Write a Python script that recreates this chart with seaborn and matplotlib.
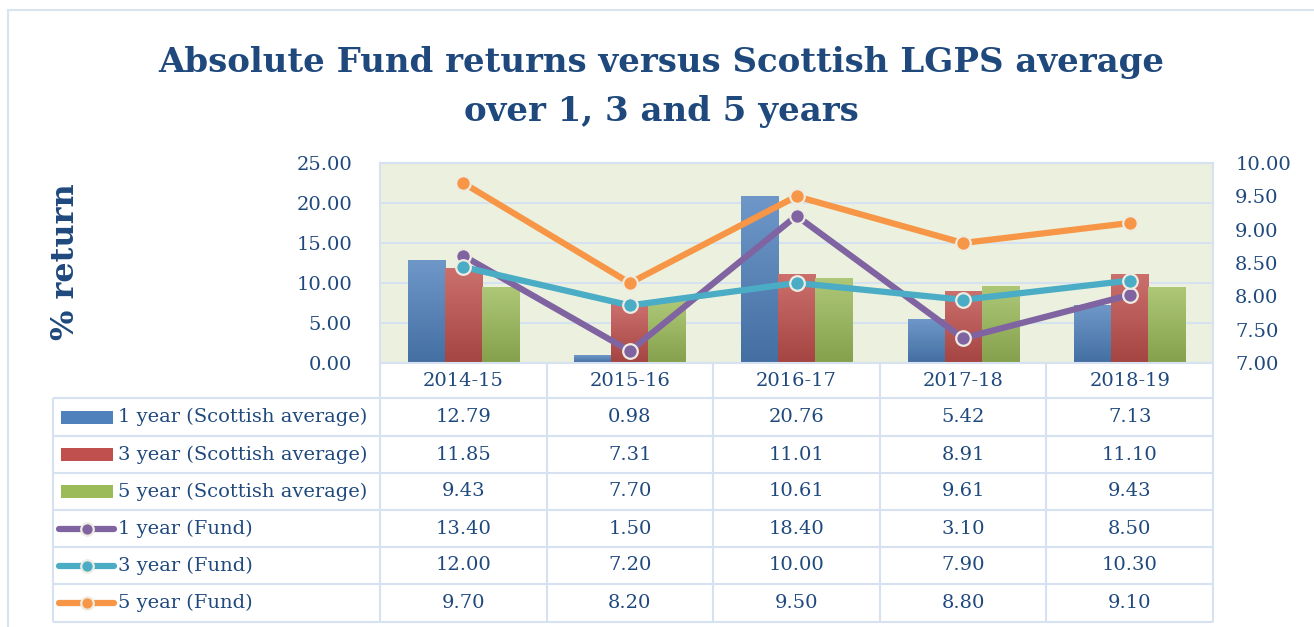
import numpy as np
import pandas as pd
import matplotlib
matplotlib.use('Agg')
import matplotlib.pyplot as plt
import seaborn as sns
from matplotlib.colors import to_rgb
from matplotlib.patches import Rectangle
from matplotlib.ticker import FormatStrFormatter

years = ['2014-15', '2015-16', '2016-17', '2017-18', '2018-19']
avg_1y = [12.79, 0.98, 20.76, 5.42, 7.13]
avg_3y = [11.85, 7.31, 11.01, 8.91, 11.10]
avg_5y = [9.43, 7.70, 10.61, 9.61, 9.43]
fund_1y = [13.40, 1.50, 18.40, 3.10, 8.50]
fund_3y = [12.00, 7.20, 10.00, 7.90, 10.30]
fund_5y = [9.70, 8.20, 9.50, 8.80, 9.10]

bar_names = ['1 year (Scottish average)', '3 year (Scottish average)', '5 year (Scottish average)']
line_names = ['1 year (Fund)', '3 year (Fund)', '5 year (Fund)']
bar_colors = ['#4F81BD', '#C0504D', '#9BBB59']
line_colors = ['#8064A2', '#4BACC6', '#F79646']

NAVY = '#1F497D'
GRIDC = '#D6E2F2'
EDGE = '#EEECE1'

sns.set_theme(style='white')
plt.rcParams['font.family'] = ['DejaVu Serif']

W, H = 1314, 627
fig = plt.figure(figsize=(W / 100, H / 100), dpi=100)


def fx(px):
    return px / W


def fy(py):
    return 1 - py / H


# pixel-space layer for the frame and the data table
axt = fig.add_axes([0, 0, 1, 1])
axt.set_xlim(0, W)
axt.set_ylim(H, 0)
axt.axis('off')
axt.set_zorder(0)

ax = fig.add_axes([fx(380), fy(363), fx(1213) - fx(380), fy(163) - fy(363)])
ax.set_zorder(1)

df = pd.DataFrame({
    'year': years * 3,
    'series': np.repeat(bar_names, len(years)),
    'value': avg_1y + avg_3y + avg_5y,
})
sns.barplot(data=df, x='year', y='value', hue='series', order=years, hue_order=bar_names,
            palette=bar_colors, width=2 / 3, gap=0, saturation=1, errorbar=None,
            legend=False, linewidth=0, ax=ax)

# Excel-like vertical gradient on each bar
for p in list(ax.patches):
    c = np.array(to_rgb(p.get_facecolor()))
    top = c + (1 - c) * 0.18
    bot = c * 0.86
    t = np.linspace(0, 1, 64)[:, None]
    grad = (top * (1 - t) + bot * t)[:, None, :]
    x0, w, h = p.get_x(), p.get_width(), p.get_height()
    ax.imshow(grad, extent=[x0, x0 + w, 0, h], aspect='auto', origin='upper',
              zorder=p.get_zorder() + 0.1, interpolation='bilinear')

pos = np.arange(len(years))
line_kw = dict(lw=4.5, marker='o', markersize=10.5, markeredgecolor=EDGE,
               markeredgewidth=1.6, solid_capstyle='round')
sns.lineplot(x=pos, y=fund_1y, color=line_colors[0], ax=ax, zorder=4, **line_kw)
sns.lineplot(x=pos, y=fund_3y, color=line_colors[1], ax=ax, zorder=5, **line_kw)

ax.set_xlim(-0.5, len(years) - 0.5)
ax.set_ylim(0, 25)
ax.set_yticks(np.arange(0, 26, 5))
ax.yaxis.set_major_formatter(FormatStrFormatter('%.2f'))
ax.set_xticks([])
ax.set_xlabel('')
ax.set_ylabel('')
ax.set_facecolor('#EBF1DE')
ax.grid(axis='y', color=GRIDC, lw=1.5)
ax.set_axisbelow(True)
ax.tick_params(axis='y', length=0, pad=20, labelsize=14, labelcolor=NAVY)
for s in ax.spines.values():
    s.set_color(GRIDC)
    s.set_linewidth(1.5)

ax2 = ax.twinx()
ax2.set_zorder(2)
sns.lineplot(x=pos, y=fund_5y, color=line_colors[2], ax=ax2, zorder=6, **line_kw)
ax2.set_ylim(7, 10)
ax2.set_yticks(np.arange(7, 10.01, 0.5))
ax2.yaxis.set_major_formatter(FormatStrFormatter('%.2f'))
ax2.set_ylabel('')
ax2.grid(False)
ax2.tick_params(axis='y', length=0, pad=16, labelsize=14, labelcolor=NAVY)
for s in ax2.spines.values():
    s.set_visible(False)
ax.set_xlim(-0.5, len(years) - 0.5)

# titles
fig.text(fx(661), fy(72), 'Absolute Fund returns versus Scottish LGPS average',
         ha='center', va='baseline', fontsize=24.5, weight='bold', color=NAVY)
fig.text(fx(661), fy(121), 'over 1, 3 and 5 years',
         ha='center', va='baseline', fontsize=24.5, weight='bold', color=NAVY)
fig.text(fx(66), fy(262), '% return', rotation=90, ha='center', va='center',
         fontsize=23, weight='bold', color=NAVY)

# outer chart frame
axt.plot([8, 8], [10, H], color='#DAE4F1', lw=1.5)
axt.plot([8, W], [10, 10], color='#DAE4F1', lw=1.5)

# data table
row_edges = [398, 436, 473, 510, 547, 584, 622]
col_edges = [380 + i * (833 / len(years)) for i in range(len(years) + 1)]
tl = dict(color=GRIDC, lw=1.5, solid_capstyle='butt')
for y in row_edges:
    axt.plot([53, 1213], [y, y], **tl)
for x in col_edges:
    axt.plot([x, x], [363, 622], **tl)
axt.plot([53, 53], [398, 622], **tl)

centers = [(col_edges[i] + col_edges[i + 1]) / 2 for i in range(len(years))]
for cx, yr in zip(centers, years):
    axt.text(cx, 381, yr, ha='center', va='center', fontsize=14, color=NAVY)

rows = [avg_1y, avg_3y, avg_5y, fund_1y, fund_3y, fund_5y]
names = bar_names + line_names
for i, (name, vals) in enumerate(zip(names, rows)):
    yc = (row_edges[i] + row_edges[i + 1]) / 2
    axt.text(118, yc, name, ha='left', va='center', fontsize=14, color=NAVY)
    for cx, v in zip(centers, vals):
        axt.text(cx, yc, f'{v:.2f}', ha='center', va='center', fontsize=14, color=NAVY)
    if i < 3:
        axt.add_patch(Rectangle((61, yc - 6.5), 52, 13, color=bar_colors[i], lw=0))
    else:
        col = line_colors[i - 3]
        axt.plot([59, 114], [yc, yc], color=col, lw=4.5, solid_capstyle='round')
        axt.plot([87], [yc], marker='o', markersize=9, color=col,
                 markeredgecolor=EDGE, markeredgewidth=1.6)

fig.savefig('out.png', dpi=100)
